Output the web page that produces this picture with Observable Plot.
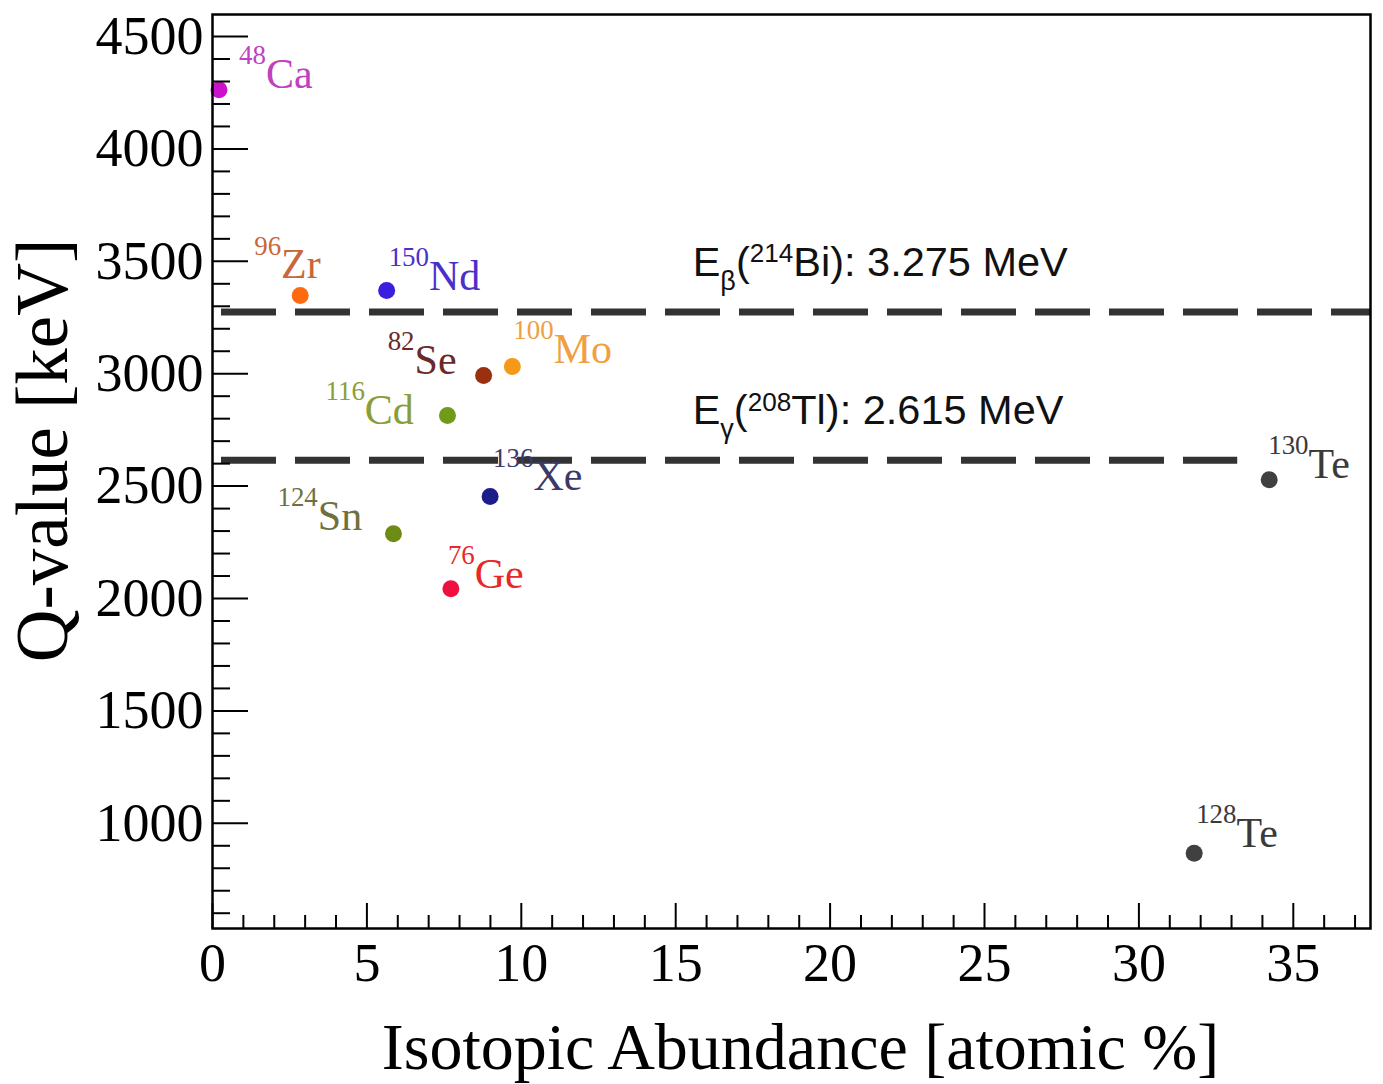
<!DOCTYPE html>
<html><head><meta charset="utf-8">
<script src="https://cdn.jsdelivr.net/npm/d3@7"></script>
<script src="https://cdn.jsdelivr.net/npm/@observablehq/plot@0.6"></script>
<style>html,body{margin:0;padding:0;background:#fff}#chart{width:1383px;height:1084px}</style>
</head><body><div id="chart"></div>
<script>
// ---- data ----
const massNumbers = ["48", "96", "150", "82", "100", "116", "136", "124", "76", "130", "128"];
const elements    = ["Ca", "Zr", "Nd", "Se", "Mo", "Cd", "Xe", "Sn", "Ge", "Te", "Te"];
const abundance   = [0.21, 2.84, 5.64, 8.78, 9.71, 7.61, 8.99, 5.86, 7.72, 34.22, 31.79];
const qValue      = [4263, 3348, 3370, 2992, 3032, 2814, 2454, 2288, 2043, 2528, 867];
const dotColors   = ["#cc11cc", "#ff6a10", "#3a1ee0", "#9a3010", "#f59a18", "#6f9a1a", "#1c1c8a", "#6e8c14", "#f01040", "#404040", "#404040"];
const labelColors = ["#c040c0", "#c8683a", "#4a30c8", "#6a2a2a", "#f0a040", "#8a9e38", "#3a3a6a", "#6e7040", "#e82828", "#3a3a3a", "#3a3a3a"];
const thresholdValues = [3275, 2615];
const thresholdEnds   = [37.5, 33.2];
const thresholdLabels = ["E_{β}(^{214}Bi): 3.275 MeV", "E_{γ}(^{208}Tl): 2.615 MeV"];
const xMajorTicks = [0, 5, 10, 15, 20, 25, 30, 35];
const yMajorTicks = [1000, 1500, 2000, 2500, 3000, 3500, 4000, 4500];
const xDomain = [0, 37.5];
const yDomain = [532, 4598];
const xTitle = "Isotopic Abundance [atomic %]";
const yTitle = "Q-value [keV]";

// ---- layout ----
const W = 1383, H = 1084, ML = 212, MR = 13, MT = 14, MB = 156;
const frameW = W - ML - MR, frameH = H - MT - MB;
const labelOffsets = [[20,-2],[-46,-17],[2,-1],[-96,-2],[1,-4],[-122,8],[3,-6],[-116,-4],[-3,-1],[-1,-2],[2,-6]];
const annotationX = 15.55;

const xMinorTicks = d3.range(1, 38).filter(v => v % 5 !== 0);
const yMinorTicks = d3.range(600, 4600, 100).filter(v => v % 500 !== 0);

const serif = "'Liberation Serif', 'Times New Roman', serif";
const sans = "'Liberation Sans', Arial, sans-serif";

const points = elements.map((el, i) => ({el, mass: massNumbers[i], x: abundance[i], y: qValue[i], color: dotColors[i], lc: labelColors[i]}));
const rules = thresholdValues.map((v, i) => ({y: v, x1: 0, x2: thresholdEnds[i], label: thresholdLabels[i]}));

const plot = Plot.plot({
  width: W, height: H,
  marginLeft: ML, marginRight: MR, marginTop: MT, marginBottom: MB,
  style: {background: "#fff", color: "#000", overflow: "visible"},
  x: {domain: xDomain},
  y: {domain: yDomain},
  color: {type: "identity"},
  marks: [
    Plot.ruleY(rules, {y: "y", x1: "x1", x2: "x2", stroke: "#333", strokeWidth: 7, strokeDasharray: "55,19", strokeDashoffset: 65}),
    Plot.dot(points, {x: "x", y: "y", r: 8.5, fill: "color", stroke: "none"}),
    ...points.map((d, i) => Plot.text([d], {
      x: "x", y: "y", text: p => `^{${p.mass}}${p.el}`,
      dx: labelOffsets[i][0], dy: labelOffsets[i][1],
      textAnchor: "start", lineAnchor: "bottom",
      fill: d.lc, fontSize: 42, fontFamily: serif
    })),
    Plot.text(rules, {x: () => annotationX, y: "y", text: "label", dy: -36, textAnchor: "start", lineAnchor: "bottom", fill: "#111", fontSize: 41.5, fontFamily: sans}),
    // inward ticks
    Plot.tickX(xMajorTicks, {x: d => d, insetTop: frameH - 25, stroke: "#000", strokeWidth: 2}),
    Plot.tickX(xMinorTicks, {x: d => d, insetTop: frameH - 13, stroke: "#000", strokeWidth: 2}),
    Plot.tickY(yMajorTicks, {y: d => d, insetRight: frameW - 36, stroke: "#000", strokeWidth: 2}),
    Plot.tickY(yMinorTicks, {y: d => d, insetRight: frameW - 18, stroke: "#000", strokeWidth: 2}),
    // tick labels
    Plot.axisX(xMajorTicks, {anchor: "bottom", tickSize: 0, tickPadding: 14, fontSize: 54, fontFamily: serif, label: null, tickFormat: d => String(d)}),
    Plot.axisY(yMajorTicks, {anchor: "left", tickSize: 0, tickPadding: 9, fontSize: 54, fontFamily: serif, label: null, tickFormat: d => String(d)}),
    // titles
    Plot.text([xTitle], {text: d => d, frameAnchor: "bottom", lineAnchor: "bottom", dy: 140, dx: 9, fontSize: 66, fontFamily: serif, fill: "#000"}),
    Plot.text([yTitle], {text: d => d, frameAnchor: "left", rotate: -90, lineAnchor: "bottom", textAnchor: "middle", dx: -146, dy: -21, fontSize: 73, fontFamily: serif, fill: "#000"}),
    Plot.frame({stroke: "#000", strokeWidth: 2.5})
  ]
});
document.getElementById("chart").appendChild(plot);

// rich text: ^{..} superscript, _{..} subscript
function applyRich(svg) {
  svg.querySelectorAll("text").forEach(t => {
    const s = t.textContent;
    if (!/[\^_]\{/.test(s)) return;
    const cs = getComputedStyle(t);
    const main = parseFloat(cs.fontSize);
    const isSans = /Sans/.test(cs.fontFamily);
    const supSize = isSans ? main * 0.63 : main * 0.64;
    const raise = isSans ? main * 0.33 : main * 0.57;
    const subSize = isSans ? main * 0.65 : main * 0.64;
    const lower = isSans ? main * 0.33 : main * 0.3;
    while (t.firstChild) t.removeChild(t.firstChild);
    const re = /(\^|_)\{([^}]*)\}|([^\^_]+)/g;
    let m, shift = 0;
    while ((m = re.exec(s))) {
      const kind = m[1] || "";
      const txt = m[1] ? m[2] : m[3];
      const target = kind === "^" ? -raise : kind === "_" ? lower : 0;
      const ts = document.createElementNS("http://www.w3.org/2000/svg", "tspan");
      if (target - shift !== 0) ts.setAttribute("dy", (target - shift).toFixed(2));
      shift = target;
      if (kind === "^") ts.setAttribute("font-size", supSize.toFixed(1));
      if (kind === "_") ts.setAttribute("font-size", subSize.toFixed(1));
      ts.textContent = txt;
      t.appendChild(ts);
    }
  });
}
applyRich(plot);
</script>
</body></html>
